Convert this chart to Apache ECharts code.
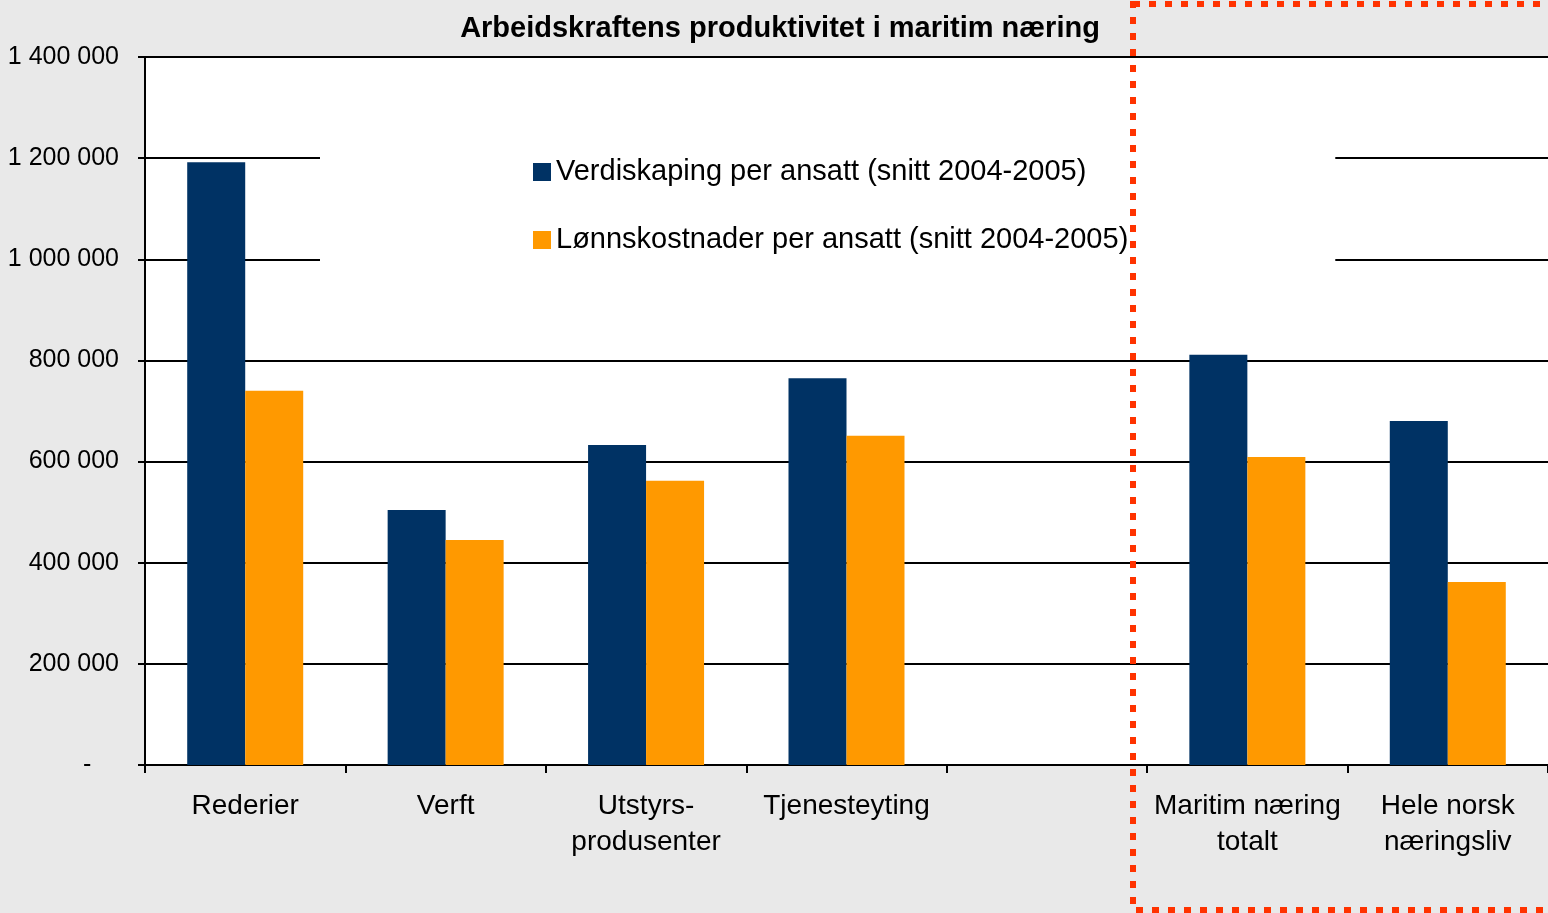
<!DOCTYPE html>
<html>
<head>
<meta charset="utf-8">
<title>Arbeidskraftens produktivitet i maritim næring</title>
<script src="https://cdn.jsdelivr.net/npm/echarts@6/dist/echarts.min.js"></script>
<style>
  html, body { margin: 0; padding: 0; background: #e9e9e9; }
  #main { width: 1548px; height: 913px; }
</style>
</head>
<body>
<div id="main"></div>
<script>
var categories = ['Rederier', 'Verft', 'Utstyrs-\nprodusenter', 'Tjenesteyting', '', 'Maritim næring\ntotalt', 'Hele norsk\nnæringsliv'];
var verdiskaping = [1192000, 504000, 633000, 765000, null, 811000, 680000];
var lonnskostnader = [740000, 445000, 562000, 651000, null, 609000, 362000];
var seriesNames = ['Verdiskaping per ansatt (snitt 2004-2005)', 'Lønnskostnader per ansatt (snitt 2004-2005)'];
var yTicks = { min: 0, max: 1400000, interval: 200000 };

var chart = echarts.init(document.getElementById('main'), null, { renderer: 'canvas' });

function fmt(v) {
  if (v === 0) return '-    ';
  return String(v).replace(/\B(?=(\d{3})+(?!\d))/g, ' ');
}

var font = 'Liberation Sans, Arial, sans-serif';

var option = {
  backgroundColor: '#e9e9e9',
  animation: false,
  title: {
    text: 'Arbeidskraftens produktivitet i maritim næring',
    left: 775,
    textAlign: 'center',
    top: 9,
    textStyle: { fontFamily: font, fontSize: 29, fontWeight: 'bold', color: '#000' }
  },
  legend: {
    orient: 'vertical',
    left: 320,
    top: 133,
    padding: [24, 207, 22, 213],
    backgroundColor: '#fff',
    itemWidth: 18,
    itemHeight: 18,
    itemGap: 38,
    icon: 'rect',
    textStyle: { fontFamily: font, fontSize: 29, lineHeight: 30, color: '#000' },
    data: seriesNames
  },
  grid: {
    show: true,
    left: 145,
    right: 0,
    top: 57,
    bottom: 148,
    backgroundColor: '#fff',
    borderWidth: 0
  },
  xAxis: {
    type: 'category',
    data: categories,
    axisLine: { lineStyle: { color: '#000', width: 2 } },
    axisTick: { show: true, interval: 0, length: 8, lineStyle: { color: '#000', width: 2 } },
    axisLabel: {
      interval: 0,
      margin: 23,
      fontFamily: font,
      fontSize: 28,
      lineHeight: 36,
      color: '#000'
    }
  },
  yAxis: {
    type: 'value',
    min: yTicks.min,
    max: yTicks.max,
    interval: yTicks.interval,
    axisLine: { show: true, lineStyle: { color: '#000', width: 2 } },
    axisTick: { show: true, length: 7, lineStyle: { color: '#000', width: 2 } },
    splitLine: { show: true, lineStyle: { color: '#000', width: 2 } },
    axisLabel: {
      formatter: fmt,
      margin: 26,
      fontFamily: font,
      fontSize: 25,
      color: '#000'
    }
  },
  series: [
    {
      name: seriesNames[0],
      type: 'bar',
      data: verdiskaping,
      barWidth: 58,
      barGap: '0%',
      itemStyle: { color: '#003264' }
    },
    {
      name: seriesNames[1],
      type: 'bar',
      data: lonnskostnader,
      barWidth: 58,
      barGap: '0%',
      itemStyle: { color: '#ff9900' }
    }
  ],
  // red dotted frame round the last two groups
  graphic: [{
    type: 'rect',
    z: 100,
    shape: { x: 1133, y: 4, width: 440, height: 906 },
    style: { fill: 'none', stroke: '#ff3300', lineWidth: 6, lineDash: [7, 9] },
    silent: true
  }]
};

chart.setOption(option);
</script>
</body>
</html>
